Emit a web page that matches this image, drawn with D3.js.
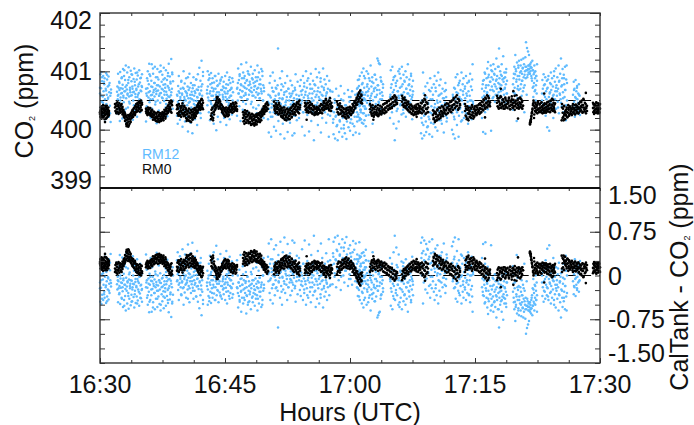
<!DOCTYPE html>
<html>
<head>
<meta charset="utf-8">
<script src="https://cdn.jsdelivr.net/npm/d3@7"></script>
<style>
  html, body { margin: 0; padding: 0; background: #fff; }
  svg { display: block; }
  text { font-family: "Liberation Sans", Arial, sans-serif; fill: #111; }
</style>
</head>
<body>
<div id="chart"></div>
<script>
// values are hundredths of a ppm above 400, one burst at a time
const calTank = 400.5;
const xTickMinutes = [0, 15, 30, 45, 60];
const xTickLabels = ["16:30", "16:45", "17:00", "17:15", "17:30"];
const co2Ticks = [399, 400, 401, 402];
const diffTicks = [-1.5, -0.75, 0, 0.75, 1.5];
const diffTickLabels = ["-1.50", "-0.75", "0", "0.75", "1.50"];

const rm12Start = [0, 2.04, 5.52, 9.24, 12.84, 16.44, 20.16, 23.88, 27.84, 30.84, 34.8, 38.52, 42.24, 45.84, 49.56, 53.04, 56.76];
const rm12End = [1.32, 5.04, 8.76, 12.36, 15.96, 19.68, 23.76, 27.72, 31.92, 33.96, 37.56, 41.64, 44.76, 48.84, 52.44, 56.04, 57.6];
const rm12Bursts = [
  [62,95,38,71,99,48,83,25,57,92,66,34,78,88,52,18,70,97,44,60,86,30,74,55,91,22,64,80,41,58,13,69],
  [28,74,52,96,60,35,82,68,15,99,55,71,42,88,63,19,77,104,58,47,92,66,31,85,73,110,54,12,69,98,62,38,80,107,57,90,45,72,64,101,24,83,59,94,70,17,50,87,65,105,33,76,61,97,44,68,86,22,56,93,74,40,63,102,52,81,30,67,89,48,75,95],
  [14,62,40,88,71,100,30,55,78,113,47,66,92,20,59,84,112,36,73,52,96,64,25,80,57,108,43,70,90,61,11,76,104,50,67,86,33,58,99,74,46,110,63,18,82,55,94,69,28,77,106,49,60,88,72,38,102,65,53,85,23,75,97,57,113,42,68,91,32,79,59,121,48,70,95,36,83],
  [24,58,10,75,45,92,36,63,17,52,70,28,84,40,60,5,72,47,100,33,56,79,14,66,50,88,22,62,42,74,-3,54,68,31,96,48,60,12,80,38,65,52,-6,71,26,90,44,58,76,18,63,35,86,49,69,8,55,95,41,73,29,106,60,46,84,20,67,118,52,78,37,99],
  [68,42,100,55,85,30,94,62,16,78,48,97,58,72,25,88,40,66,10,81,52,92,35,70,60,-1,84,46,75,22,57,96,64,38,79,50,13,86,68,44,90,28,60,74,52,82,20,65,36,92,56,71,8,48,98,62,30,77,42,85,55,18,68,80,35,58,72,26,88,50,64],
  [24,72,50,105,62,85,40,95,68,15,78,112,55,88,66,34,98,74,58,20,92,80,63,44,115,70,85,52,100,30,76,60,94,82,12,66,108,72,48,88,58,96,38,80,68,18,102,75,55,90,64,28,84,110,60,72,42,98,78,54,86,26,70,104,62,36,92,50,76,20,66],
  [18,60,-5,45,80,30,92,55,-12,38,72,22,98,50,65,5,42,84,34,58,-2,70,26,48,76,139,15,62,36,54,88,-8,44,68,28,100,52,10,74,40,60,-15,33,80,47,20,66,56,92,-4,38,70,25,50,62,12,84,43,58,30,76,-10,48,66,35,54,-6,72,24,95,44,60,16,52,82,37],
  [20,52,75,34,85,45,60,5,68,92,30,55,80,-10,40,65,100,48,72,25,58,88,36,-3,62,78,44,96,15,54,70,32,84,50,-18,66,42,76,104,28,60,90,46,8,72,56,98,38,64,82,-5,50,74,20,58,105,42,68,86,30,52,78,12,62,92,36,70,48,-12,84,55,24,66,40],
  [40,65,12,-8,30,52,-15,22,70,6,38,-18,26,58,-4,16,44,75,2,32,-12,20,50,8,62,-6,28,42,-16,14,36,68,4,24,48,-2,56,18,34,66,10,-9,30,46,22,60,-5,38,52,14,72,26,44,-7,20,58,34,48,12,64,28,40,54,16,36,50,24],
  [30,62,85,22,48,75,40,92,34,68,18,56,98,44,80,60,105,28,72,52,88,36,6,64,100,46,78,58,96,25,70,42,84,54,110,32,74,62,90,10,50,80,66,38,94,56,72,44,86,30,60,122,76,118,48,114,68,112,52,90,36,82,64,28,58,78],
  [20,60,102,44,78,30,108,54,85,10,68,40,-18,92,58,75,2,48,84,36,66,100,14,54,104,72,42,88,60,26,108,50,78,34,94,64,46,82,56,100,22,70,90,38,62,112,48,76,30,86,58,68,40,96,52,74,18,60,84],
  [-6,20,50,-15,34,98,8,62,-10,42,26,74,14,-4,55,36,80,6,46,22,68,-8,30,88,52,12,40,72,-12,25,60,34,78,18,92,44,4,66,28,84,50,-2,38,98,58,16,76,32,48,86,22,62,10,42,70,54,28,-5,36,66,46,80,24,56,14,40],
  [0,28,60,-8,42,72,18,-15,52,90,34,64,8,95,46,76,-12,24,56,84,38,68,14,98,50,30,78,60,88,20,44,70,54,36,92,62,26,80,48,10,66,82,40,58,96,32,74,50,18,86,112,44],
  [20,55,78,-4,40,85,66,98,30,-7,72,50,88,62,105,35,116,76,94,58,44,82,68,110,-2,90,74,100,54,86,112,66,96,78,48,104,60,84,122,70,92,56,108,80,64,139,88,72,100,58,94,76,112,50,86,68,126,82,60,98,70,90,46,78,104,62,84],
  [34,64,88,48,108,72,95,128,60,100,82,15,115,54,92,75,106,68,118,86,42,98,70,110,78,120,58,96,84,105,66,122,90,112,30,76,100,124,88,150,108,60,140,102,94,134,110,98,128,104,96,112,100,108,115,92,106,84,118,72,102,56,95,80,110,66,88,100,50,76,92,62,112],
  [50,85,70,30,95,60,42,78,90,24,66,52,84,4,72,38,92,56,-2,62,80,46,98,68,34,88,54,74,20,60,100,44,82,66,105,36,76,58,90,48,70,110,28,84,62,96,52,122,74,40,88,104,64,30,94,78,56,108,68,16,86,110,50],
  [60,30,82,48,70,22,56,85,40,66,28,75,52,35,62,45,78,32,58,25]
];
// second reading of the denser parts of each burst
const rm12Dense = [
  [72,58,90,46,82,35,67,94,53,76,28,63],
  [65,58,72,80,50,62,90,70,55,102,66,36,76,60,85,48,68,58,95,74,64,42,82,56,70,98,60,78,52,88,66,73],
  [70,58,84,64,95,52,74,60,105,68,80,48,66,90,76,58,62,100,70,54,86,66,78,44,60,92,72,56,82,64,98,50],
  [60,48,66,38,56,82,62,44,70,52,30,64,58,90,46,72,54,34,60,76,50,66,42,86,56,68,48,62,28,74,58,92],
  [62,74,50,88,66,44,80,58,70,36,92,54,64,76,48,60,84,40,68,56,72,32,62,78,52,66,46,90,58,70,42,82],
  [70,80,62,92,56,76,66,48,88,72,60,84,52,96,68,78,44,64,86,58,74,82,36,70,90,62,54,78,66,100,50,72],
  [48,36,58,22,44,66,30,52,72,40,26,60,46,34,78,54,28,64,42,50,16,70,38,56,32,62,46,24,68,40,52,34],
  [58,40,66,50,30,74,60,44,84,54,36,70,48,62,28,78,56,42,66,34,52,88,60,46,72,38,58,64,26,50,68,44],
  [32,18,46,24,8,38,14,52,28,2,42,20,34,56,12,26,44,6,36,22,48,16,30,60,10,40,24],
  [70,54,86,42,64,78,50,92,60,36,74,66,88,48,58,82,40,70,94,56,68,76,46,62,84,52,72],
  [56,72,40,64,90,50,80,32,66,58,96,44,74,60,28,84,52,70,38,62,78,46,92,56,66],
  [30,12,48,24,58,36,4,44,18,66,28,52,10,38,72,22,46,32,60,16,42,26,54,34,68,20],
  [38,56,22,70,46,30,62,80,36,52,16,66,44,74,28,58,40,84,50,34,68,48],
  [70,84,58,96,76,64,90,48,82,102,68,56,94,74,86,60,108,78,66,92,52,88,72,98,62],
  [78,96,62,104,86,70,110,92,54,100,84,106,72,94,108,102,90,104,110,96,106,88,102,74,98,68,92,84],
  [62,44,76,56,34,70,86,48,64,78,40,58,92,52,72,66,38,82,60,46,76,54,88,68,42,80],
  [42,68,36,54,72,46,60,38]
];

const rm0Start = [0, 1.8, 5.52, 9.24, 13.32, 17.16, 20.88, 24.6, 28.44, 32.4, 36.24, 39.96, 43.8, 47.64, 51.6, 55.44, 59.16];
const rm0End = [1.08, 5.04, 8.64, 12.36, 16.44, 20.16, 24, 27.84, 31.44, 35.64, 39.36, 43.2, 46.8, 50.76, 54.6, 58.44, 60];
const rm0Bursts = [
  [30,22,38,26,34,19,40,28,36,24,42,21,33,29,37,18,31,25,39,27,35,20,41,30,26,34,23,38,28,32],
  [44,32,40,28,46,35,30,42,27,38,45,33,29,41,36,44,31,39,28,34,25,30,20,27,16,24,11,21,8,18,5,14,22,10,26,17,28,20,31,24,34,22,36,28,38,25,41,30,44,33,38,46,32,42,36,48,31,45,38,50,34,43],
  [36,28,33,25,38,30,27,35,26,37,29,32,24,34,27,21,31,25,18,29,22,15,27,20,14,30,17,23,13,26,19,28,15,24,18,21,27,16,29,23,31,19,33,26,36,28,40,30,43,33,38,46,35,50,29,42],
  [42,28,36,24,44,31,26,40,33,22,38,29,45,27,35,23,41,30,25,37,20,33,26,18,31,22,36,15,28,20,34,13,25,30,17,35,22,27,34,20,36,25,32,38,28,42,33,45,36,40,48,34,44,38,53,41,50,35],
  [18,34,22,38,16,30,26,40,34,44,38,50,42,56,47,36,52,40,48,44,36,42,33,38,28,36,24,34,22,30,38,26,33,23,37,29,35,41,32,44,30,39,34,46,36,31,43,38,47,33,40,35],
  [30,14,24,10,33,18,27,12,22,32,16,26,11,29,20,13,25,8,19,27,15,10,23,17,7,21,12,26,16,9,24,14,20,28,17,25,13,30,21,27,33,24,36,29,40,27,35,31,44,38,32,47,36,42],
  [48,34,40,28,45,36,30,42,38,26,46,33,28,40,35,22,37,30,20,33,25,38,17,31,24,16,35,27,20,34,23,29,18,36,26,38,21,32,40,27,35,44,30,38,25,42,33,47,36,30,44,28,50,38],
  [46,34,42,30,38,45,32,40,36,47,30,43,35,28,41,33,38,25,36,30,27,39,33,26,37,28,34,40,30,44,35,28,42,38,48,34,45,40,53,36,46,42,37,50,33,44,39,32,46,38],
  [48,30,42,26,38,45,34,28,40,32,24,37,29,22,35,26,19,33,24,38,21,30,27,36,25,32,38,29,42,34,46,38,50,42,55,47,60,52,64,56,67,48,58,45],
  [44,30,38,24,42,28,22,35,26,40,30,25,37,23,33,28,41,32,26,38,30,43,35,28,45,37,31,48,40,34,50,42,36,53,44,39,56,47,41,59,50,43,55,46],
  [58,42,52,39,55,46,40,50,36,47,33,44,38,30,42,35,27,40,32,25,38,29,36,26,43,31,37,28,41,34,30,46,36,28,50,38,32,53,42,27,47,35,44,30],
  [33,18,28,13,30,22,16,35,24,19,38,26,20,32,40,28,23,36,30,42,34,26,45,37,29,40,33,47,36,30,50,42,34,54,44,37,48,40,59,46,34,52,38,44],
  [44,24,36,18,40,28,16,33,22,38,26,20,42,30,24,35,22,40,28,34,25,38,30,42,33,27,45,36,30,48,40,34,52,43,37,55,46,39,59,48,42,54,44,40],
  [58,40,50,36,54,44,38,56,46,40,52,36,48,42,55,39,50,44,37,47,53,41,35,49,43,57,38,46,51,40,34,48,44,59,37,50,42,36,54,45,39,52,47,36,41],
  [10,14,18,24,30,36,44,50,20,40,32,46,30,38,42,34,48,36,30,44,38,32,46,34,40,28,36,42,30,45,33,38,29,44,35,40,31,48,36,42,30,50,38,34,53,41,32,46,37,43,30],
  [44,20,36,16,40,28,18,33,24,38,30,22,42,34,26,40,28,36,32,25,38,44,30,36,27,42,33,38,29,41,35,28,45,37,31,48,40,33,50,42,30,53,38,34,46,36,28,40,32],
  [46,30,38,27,44,34,29,42,36,47,31,40,28,35,45,33,38,30,43,36]
];
const rm0Dense = [
  [27,33,24,36,31,20,29,38,23,35,26,41,32,19,28,37,22,34,30,25],
  [38,43,30,35,47,40,29,37,33,42,31,36,26,33,22,29,15,23,9,17,12,25,7,19,24,13,28,21,33,26,30,37,27,40,35,31,44,39,47,36,49,41,33,46],
  [31,35,29,26,34,37,28,24,31,22,27,17,25,30,20,16,28,23,14,19,25,29,15,22,17,26,30,20,24,34,27,22,37,32,29,41,36,47,39,31,44,48],
  [35,39,27,43,30,24,37,32,41,26,34,28,39,24,30,35,19,27,32,16,23,29,14,33,21,26,18,31,24,37,29,23,33,39,30,43,37,47,40,35,51,43,37,46],
  [24,28,36,20,31,42,36,47,53,40,45,50,38,43,35,30,39,26,32,37,24,28,35,31,25,39,33,42,36,29,44,40,34,37,45,32],
  [20,26,15,29,22,12,31,17,24,14,28,19,23,10,21,16,26,11,18,24,9,15,22,27,13,19,25,18,29,23,16,31,26,34,30,37,41,33,39,45,35,43],
  [41,37,32,44,29,39,35,27,43,31,36,24,33,28,23,38,19,29,34,21,26,36,30,18,24,33,28,37,22,31,42,26,36,29,40,34,45,31,39,48,35,42],
  [40,44,36,33,46,29,38,42,31,37,44,27,34,40,29,26,36,31,38,28,35,41,32,29,43,37,33,46,40,36,50,43,38,47,41,35,49,43,37,40],
  [35,44,29,36,41,27,33,38,23,30,35,26,21,31,37,28,23,34,29,39,33,27,36,44,31,40,48,37,45,53,43,58,49,62,54,46,60,51],
  [35,41,27,33,37,24,30,39,27,34,29,42,25,36,31,27,39,34,29,44,33,38,30,46,41,35,49,38,44,52,37,47,54,42,57,48,52,44],
  [48,54,44,41,51,37,45,42,34,48,39,31,36,43,28,37,33,26,41,30,39,35,28,44,32,37,40,29,45,34,48,31,41,51,36,29,46,38],
  [25,20,31,15,27,21,33,24,18,29,37,23,31,26,39,34,28,43,33,38,28,44,35,41,31,48,39,34,51,43,37,56,47,41,53,36,49,42],
  [32,40,22,34,19,37,27,31,21,36,25,39,29,23,37,32,26,41,28,35,31,44,37,29,42,35,47,33,50,41,36,53,45,38,57,49,41,47],
  [46,54,38,48,42,57,37,44,51,40,47,36,53,43,38,49,45,55,40,35,48,52,42,37,46,58,41,50,38,45,53,39,47,55,43,37,49,41],
  [12,16,22,28,34,42,47,26,37,44,33,41,28,46,35,31,43,37,30,47,39,33,42,29,37,44,32,39,47,34,41,36,44,31,49,37,43,35,51,39,33,45],
  [38,29,22,41,18,31,26,35,21,29,37,24,39,31,27,35,41,29,37,33,26,43,34,30,39,28,44,36,32,47,38,29,42,51,35,31,44,37,41],
  [37,43,32,29,41,35,46,30,38,33,42,28,36,44]
];
// isolated RM0 readings away from the band
const rm0LoneMinutes = [0.6, 3.2, 10.4, 14, 18.2, 24.8, 27.6, 32.8, 38, 39, 40.4, 44.8, 46.2, 48.1, 49.6, 50.16, 51.6, 51.7, 53.3, 55.4, 55.7, 58.3];
const rm0LoneValues = [13, 6, 15, 56, 9, 17, 54, 17, 22, 59, 16, 19, 21, 70, 66, 19, 9, 13, 62, 16, 25, 63];

const blue = "#5fbbff";
const ink = "#333";

function toPoints(starts, ends, bursts) {
    return bursts.flatMap((burst, b) => {
        const t = d3.scaleLinear().domain([0, burst.length - 1]).range([starts[b], ends[b]]);
        return burst.map((v, i) => ({ minute: t(i), co2: 400 + v / 100 }));
    });
}
const rm12 = toPoints(rm12Start, rm12End, rm12Bursts).concat(toPoints(rm12Start, rm12End, rm12Dense));
const rm0 = toPoints(rm0Start, rm0End, rm0Bursts)
    .concat(toPoints(rm0Start, rm0End, rm0Dense))
    .concat(rm0LoneMinutes.map((m, i) => ({ minute: m, co2: 400 + rm0LoneValues[i] / 100 })));

const svg = d3.select("#chart").append("svg").attr("width", 694).attr("height", 425);

const x = d3.scaleLinear().domain([0, 60]).range([100, 600]);
const yTop = d3.scaleLinear().domain([399, 402]).range([188, 13]);
const yBot = d3.scaleLinear().domain([-1.5, 1.5]).range([363, 188]);

// dashed reference lines, under the points
function dashed(y) {
    svg.append("line")
        .attr("x1", x(0)).attr("x2", x(60))
        .attr("y1", y).attr("y2", y)
        .attr("stroke", "#000")
        .attr("stroke-width", 1.2)
        .attr("stroke-dasharray", "7.5 8.1");
}
dashed(yTop(calTank));
dashed(yBot(0));

function dots(data, color, yFn, r) {
    svg.append("g").selectAll("circle")
        .data(data)
        .enter()
        .append("circle")
        .attr("cx", d => x(d.minute))
        .attr("cy", yFn)
        .attr("r", r)
        .attr("fill", color);
}
dots(rm12, blue, d => yTop(d.co2), 1.25);
dots(rm0, "#000", d => yTop(d.co2), 1.3);
dots(rm12, blue, d => yBot(calTank - d.co2), 1.25);
dots(rm0, "#000", d => yBot(calTank - d.co2), 1.3);

// tick marks only, labels are placed by hand below
function ticks(axis, scale, values, size, pos) {
    const g = svg.append("g")
        .attr("transform", pos)
        .call(axis(scale).tickValues(values).tickSize(size).tickFormat(""));
    g.select(".domain").remove();
    g.selectAll("line").attr("stroke", ink);
}

const minorX = d3.range(0, 60.1, 3.75);
const majorX = xTickMinutes;
ticks(d3.axisTop, x, minorX, -3, "translate(0,13)");
ticks(d3.axisBottom, x, minorX, 3, "translate(0,188)");
ticks(d3.axisTop, x, minorX, 3, "translate(0,363)");
ticks(d3.axisTop, x, majorX, 5, "translate(0,363)");

const minorTop = d3.range(399, 402.01, 0.2);
const minorBot = d3.range(-1.5, 1.51, 0.25);
ticks(d3.axisRight, yTop, minorTop, 5, "translate(100,0)");
ticks(d3.axisRight, yTop, co2Ticks, 10, "translate(100,0)");
ticks(d3.axisLeft, yTop, minorTop, 5, "translate(600,0)");
ticks(d3.axisLeft, yTop, co2Ticks, 10, "translate(600,0)");
ticks(d3.axisRight, yBot, minorBot, 5, "translate(100,0)");
ticks(d3.axisRight, yBot, [-0.75, 0.75], 10, "translate(100,0)");
ticks(d3.axisLeft, yBot, minorBot, 5, "translate(600,0)");
ticks(d3.axisLeft, yBot, [-0.75, 0.75], 10, "translate(600,0)");

// frame
svg.append("rect")
    .attr("x", 100).attr("y", 13)
    .attr("width", 500).attr("height", 350)
    .attr("fill", "none")
    .attr("stroke", ink)
    .attr("stroke-width", 1.4);
svg.append("line")
    .attr("x1", 100).attr("x2", 600)
    .attr("y1", 188).attr("y2", 188)
    .attr("stroke", "#111")
    .attr("stroke-width", 2);

// tick labels
const fontSize = 25;
co2Ticks.forEach(v => {
    const shift = v === 402 ? 7 : v === 399 ? -8 : 0;
    svg.append("text")
        .attr("x", 92)
        .attr("y", yTop(v) + shift + 8.5)
        .attr("text-anchor", "end")
        .attr("font-size", fontSize)
        .text(v);
});
diffTicks.forEach((v, i) => {
    const shift = v === 1.5 ? 7 : v === -1.5 ? -10 : v === 0 ? 1 : 0;
    svg.append("text")
        .attr("x", 608)
        .attr("y", yBot(v) + shift + 8.5)
        .attr("font-size", fontSize)
        .text(diffTickLabels[i]);
});
xTickMinutes.forEach((m, i) => {
    svg.append("text")
        .attr("x", x(m))
        .attr("y", 393)
        .attr("text-anchor", "middle")
        .attr("font-size", fontSize)
        .text(xTickLabels[i]);
});

// titles
svg.append("text")
    .attr("x", 350).attr("y", 421)
    .attr("text-anchor", "middle")
    .attr("font-size", fontSize)
    .text("Hours (UTC)");

function co2Title(g, before, after) {
    const t = g.append("text").attr("font-size", fontSize);
    t.append("tspan").text(before);
    t.append("tspan").attr("font-size", 9).attr("dy", 2).text("2");
    t.append("tspan").attr("dy", -2).text(after);
    return t;
}
co2Title(svg, "CO", " (ppm)")
    .attr("text-anchor", "middle")
    .attr("transform", "translate(33,101) rotate(-90)");
co2Title(svg, "CalTank - CO", " (ppm)")
    .attr("text-anchor", "middle")
    .attr("transform", "translate(688,277) rotate(-90)");

// legend
svg.append("text")
    .attr("x", 142).attr("y", 159)
    .attr("font-size", 14)
    .style("fill", blue)
    .text("RM12");
svg.append("text")
    .attr("x", 142).attr("y", 174)
    .attr("font-size", 14)
    .style("fill", "#111")
    .text("RM0");
</script>
</body>
</html>
